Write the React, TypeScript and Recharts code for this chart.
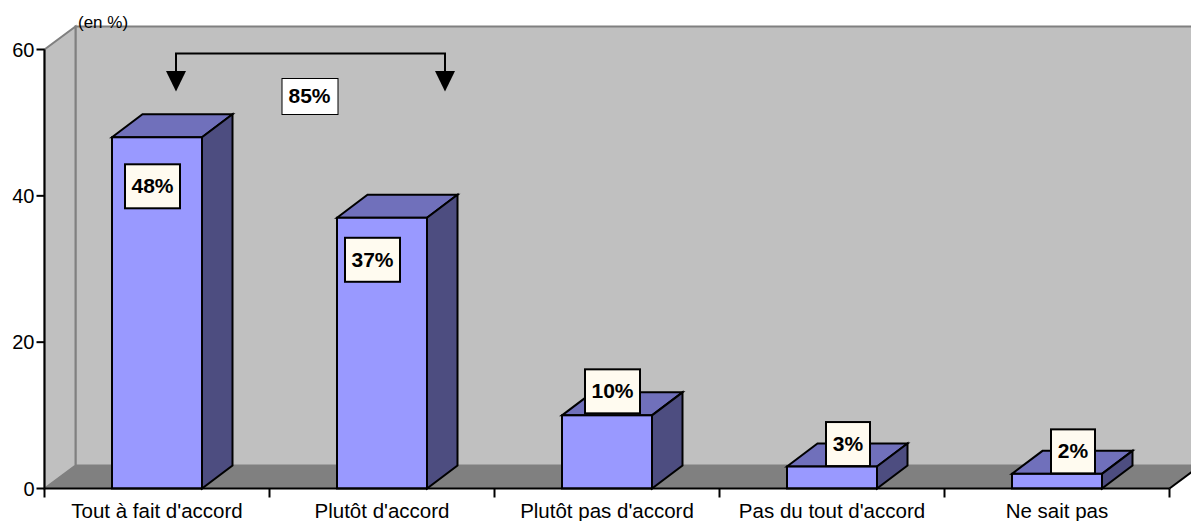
import React from 'react';
import { BarChart, Bar, XAxis, YAxis, ReferenceArea, LabelList } from 'recharts';

const categories = ["Tout à fait d'accord", "Plutôt d'accord", "Plutôt pas d'accord", "Pas du tout d'accord", 'Ne sait pas'];
const shares = [48, 37, 10, 3, 2];
const yTicks = [0, 20, 40, 60];
const cumulLabel = '85%';
const unitLabel = '(en %)';

const rows = categories.map((name, i) => ({ name, share: shares[i] }));

const FONT = '"Liberation Sans", Arial, sans-serif';
// depth of the fake 3D projection
const DX = 31;
const DY = 23;
const BAR_DX = 30.5;
// labels were placed by hand on each column: offset from the column centre
const LABEL_SHIFT = [
  { dx: -5, top: 27, w: 55 },
  { dx: -10, top: 20, w: 55 },
  { dx: 5, top: -46, w: 55 },
  { dx: 15.5, top: -44.5, w: 44 },
  { dx: 15.5, top: -44.5, w: 44 },
];
const LABEL_H = 44;

const Walls = ({ x, y, width, height }: any) => {
  const bottom = y + height;
  const right = x + width;
  return (
    <g>
      <rect x={x + DX} y={y - DY} width={width + 40} height={height} fill="#C0C0C0" stroke="#808080" strokeWidth={2} />
      <polygon
        points={`${x},${bottom} ${x},${y} ${x + DX},${y - DY} ${x + DX},${bottom - DY}`}
        fill="#C0C0C0"
        stroke="#808080"
        strokeWidth={2}
      />
      <polygon
        points={`${x},${bottom} ${x + DX},${bottom - DY} ${right + DX},${bottom - DY} ${right},${bottom}`}
        fill="#808080"
      />
      <line x1={right} y1={bottom} x2={right + DX} y2={bottom - DY} stroke="#000" strokeWidth={2} />
      <text x={x + 33.5} y={y - 22} fontSize={17} fontFamily={FONT} fill="#000">
        {unitLabel}
      </text>
    </g>
  );
};

// bracket joining the first two columns, with its total
const Bracket = ({ x, y }: any) => {
  const left = x + 131.5;
  const right = x + 400.5;
  const top = y + 4;
  const base = y + 21.5;
  const tip = y + 42;
  return (
    <g>
      <polyline points={`${left},${base} ${left},${top} ${right},${top} ${right},${base}`} fill="none" stroke="#000" strokeWidth={2} />
      <polygon points={`${left - 10},${base} ${left + 10},${base} ${left},${tip}`} fill="#000" />
      <polygon points={`${right - 10},${base} ${right + 10},${base} ${right},${tip}`} fill="#000" />
      <rect x={x + 237.5} y={y + 29} width={56} height={36} fill="#fff" stroke="#000" strokeWidth={1} />
      <text x={x + 265} y={y + 46} textAnchor="middle" dominantBaseline="central" fontFamily={FONT} fontWeight="bold" fontSize={21}>
        {cumulLabel}
      </text>
    </g>
  );
};

const Column = ({ x: rawX, y, width, height }: any) => {
  const x = rawX - 0.5;
  const r = x + width;
  const b = y + height;
  return (
    <g stroke="#000" strokeWidth={2} strokeLinejoin="miter">
      <polygon points={`${x},${y} ${x + BAR_DX},${y - DY} ${r + BAR_DX},${y - DY} ${r},${y}`} fill="#7070BB" />
      <polygon points={`${r},${y} ${r + BAR_DX},${y - DY} ${r + BAR_DX},${b - DY} ${r},${b}`} fill="#4D4D80" />
      <rect x={x} y={y} width={width} height={height} fill="#9999FF" />
    </g>
  );
};

const ValueBox = ({ x, y, width, index, value }: any) => {
  const shift = LABEL_SHIFT[index];
  const cx = x + width / 2 + shift.dx;
  const top = y + shift.top;
  return (
    <g>
      <rect x={cx - shift.w / 2} y={top} width={shift.w} height={LABEL_H} fill="#FFFBF0" stroke="#000" strokeWidth={2} />
      <text x={cx} y={top + LABEL_H / 2 - 0.5} textAnchor="middle" dominantBaseline="central" fontFamily={FONT} fontWeight="bold" fontSize={21} fill="#000">
        {`${value}%`}
      </text>
    </g>
  );
};

// tick marks sit on the category boundaries, the text stays centred
const CategoryTick = ({ x, y, payload, index, width }: any) => {
  const band = width / categories.length;
  const left = x - band / 2;
  const axisY = y - 8;
  return (
    <g>
      <line x1={left} y1={axisY} x2={left} y2={axisY + 9} stroke="#000" strokeWidth={2} />
      {index === categories.length - 1 && (
        <line x1={left + band} y1={axisY} x2={left + band} y2={axisY + 9} stroke="#000" strokeWidth={2} />
      )}
      <text x={x} y={axisY + 24} textAnchor="middle" dominantBaseline="middle" fontFamily={FONT} fontSize={20.5} fill="#000">
        {payload.value}
      </text>
    </g>
  );
};

export default function App() {
  return (
    <div style={{ position: 'absolute', left: 0, top: 0, width: 1191, height: 521, overflow: 'hidden', background: '#fff' }}>
      <BarChart
        width={1191}
        height={521}
        data={rows}
        margin={{ top: 49.5, right: 21.5, bottom: 0, left: 0 }}
        barSize={90}
      >
        <ReferenceArea yAxisId={0} y1={0} y2={60} ifOverflow="visible" shape={<Walls />} fill="none" stroke="none" />
        <ReferenceArea yAxisId={0} y1={0} y2={60} ifOverflow="visible" shape={<Bracket />} fill="none" stroke="none" />
        <XAxis
          dataKey="name"
          height={32.5}
          interval={0}
          tickLine={false}
          axisLine={{ stroke: '#000', strokeWidth: 2 }}
          tick={<CategoryTick />}
        />
        <YAxis
          width={44.5}
          domain={[0, 60]}
          ticks={yTicks}
          tickSize={8}
          tickMargin={2}
          tickLine={{ stroke: '#000', strokeWidth: 2 }}
          axisLine={{ stroke: '#000', strokeWidth: 2 }}
          tick={{ fill: '#000', fontSize: 20, fontFamily: FONT }}
        />
        <Bar dataKey="share" isAnimationActive={false} shape={<Column />}>
          <LabelList dataKey="share" content={<ValueBox />} />
        </Bar>
      </BarChart>
    </div>
  );
}
